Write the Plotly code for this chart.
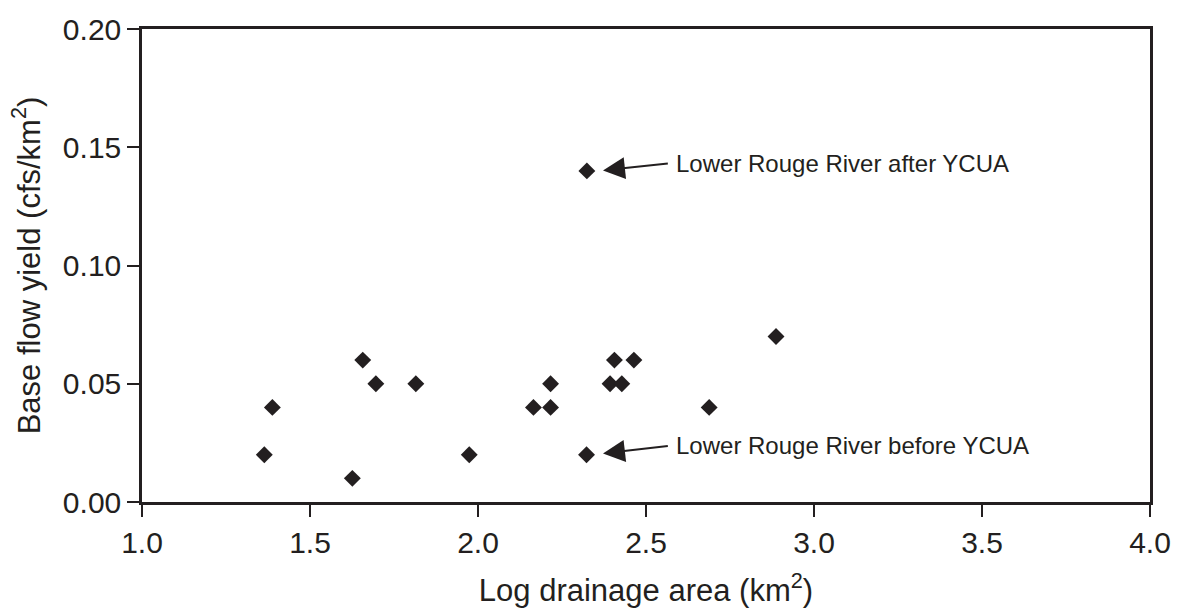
import plotly.graph_objects as go

log_area = [1.364, 1.388, 1.626, 1.657, 1.696, 1.815, 1.974, 2.165, 2.216, 2.216,
            2.323, 2.393, 2.406, 2.428, 2.464, 2.688, 2.887, 2.324]
yield_vals = [0.02, 0.04, 0.01, 0.06, 0.05, 0.05, 0.02, 0.04, 0.05, 0.04,
              0.02, 0.05, 0.06, 0.05, 0.06, 0.04, 0.07, 0.14]

labels = ["Lower Rouge River after YCUA", "Lower Rouge River before YCUA"]
arrow_head = [(2.372, 0.1402), (2.372, 0.0205)]
arrow_tail = [(2.565, 0.1431), (2.565, 0.0237)]

x_ticks = [1.0, 1.5, 2.0, 2.5, 3.0, 3.5, 4.0]
y_ticks = [0.00, 0.05, 0.10, 0.15, 0.20]

ink = "#231f20"
font = "Liberation Sans, Arial, sans-serif"

fig = go.Figure()
fig.add_trace(go.Scatter(
    x=log_area, y=yield_vals, mode="markers",
    marker=dict(symbol="diamond", size=13, color=ink, line=dict(width=0)),
    showlegend=False, cliponaxis=False,
))

for lab, (hx, hy), (tx, ty) in zip(labels, arrow_head, arrow_tail):
    fig.add_annotation(x=hx, y=hy, ax=tx, ay=ty, xref="x", yref="y", axref="x", ayref="y",
                       text=lab, showarrow=True, arrowhead=2, arrowsize=2.2, arrowwidth=2,
                       arrowcolor=ink, standoff=0, startstandoff=0,
                       xanchor="left", yanchor="middle", borderpad=7,
                       font=dict(family=font, size=24, color=ink))

axis_common = dict(showgrid=False, zeroline=False, showline=True, linecolor=ink, linewidth=2.5,
                   mirror=True, ticks="outside", ticklen=12, tickwidth=1.5, tickcolor=ink,
                   tickfont=dict(family=font, size=30, color=ink))

fig.update_xaxes(range=[1.0, 4.0], tickvals=x_ticks, ticktext=[f"{v:.1f}" for v in x_ticks],
                 title=dict(text="Log drainage area (km<sup>2</sup>)", standoff=22,
                            font=dict(family=font, size=31, color=ink)),
                 **axis_common)
fig.update_yaxes(range=[0.0, 0.20], tickvals=y_ticks, ticktext=[f"{v:.2f}" for v in y_ticks],
                 title=dict(text="Base flow yield (cfs/km<sup>2</sup>)", standoff=14,
                            font=dict(family=font, size=31, color=ink)),
                 **axis_common)

fig.update_layout(
    width=1183, height=614,
    margin=dict(l=142, r=33, t=21, b=112),
    plot_bgcolor="white", paper_bgcolor="white",
)

fig.write_html("out.html")
